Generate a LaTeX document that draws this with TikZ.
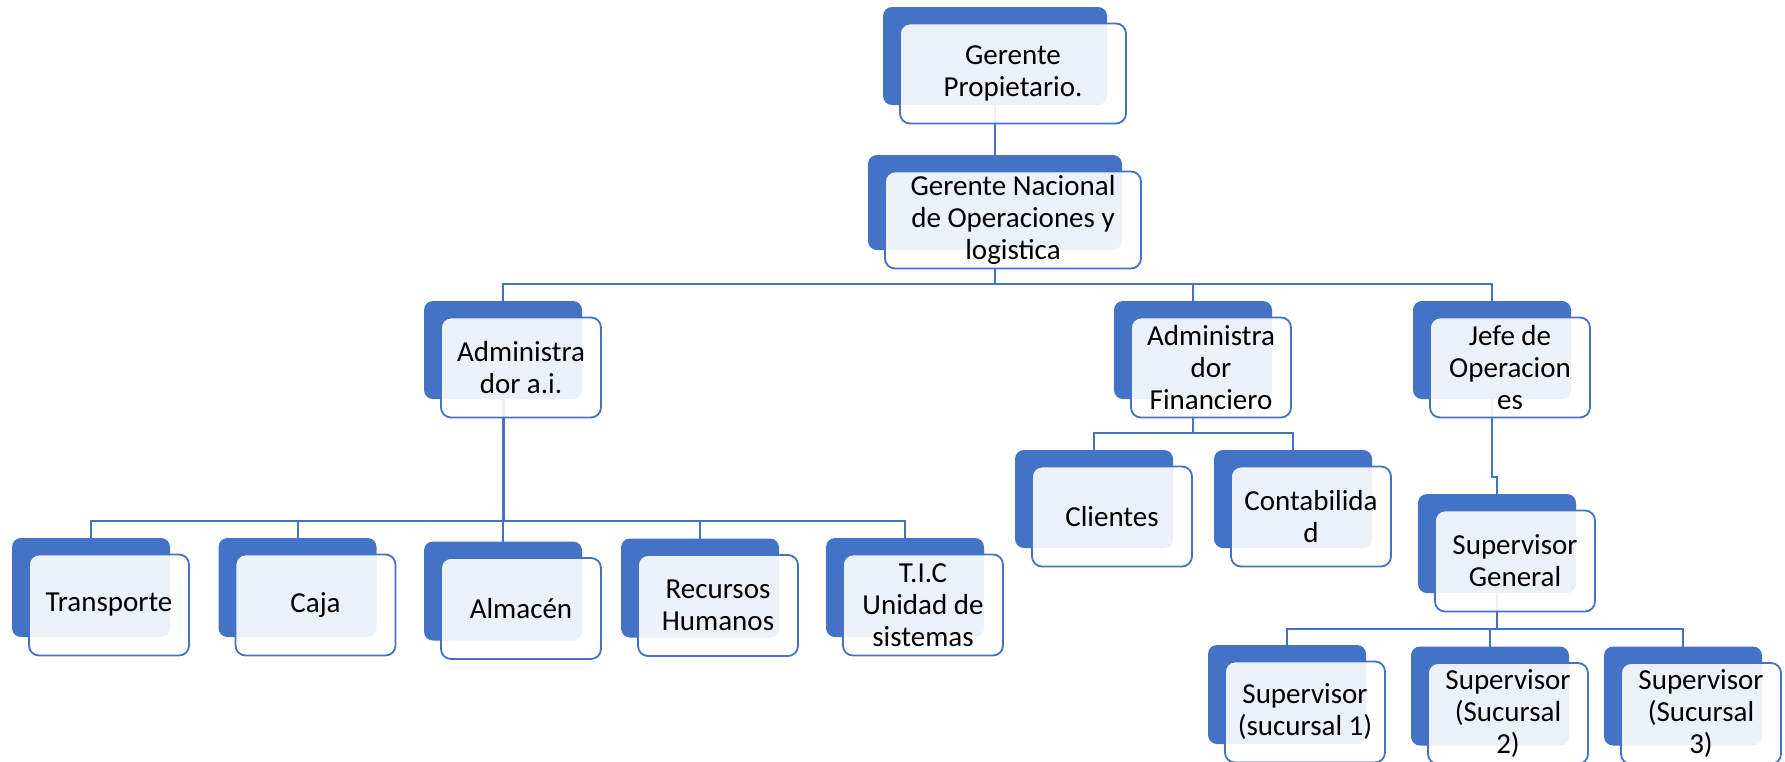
\documentclass[tikz,border=0pt]{standalone}
\usepackage{fontspec}
\setmainfont{Carlito}
\definecolor{ablue}{HTML}{4472C4}
\newcommand\orgfont{\fontsize{29}{32}\selectfont}
\newcommand\backnode[5]{\node[backbox, minimum width=#4pt, minimum height=#5pt] (#1) at (#2,#3) {};}
\newcommand\frontnode[4]{\node[frontbox, minimum width=#2pt, minimum height=#3pt] (#1f) at ([xshift=18pt,yshift=-17.5pt]#1.center) {#4};}
\begin{document}
\begin{tikzpicture}[x=1pt,y=-1pt,
 backbox/.style={fill=ablue, rounded corners=9pt, inner sep=0pt, outer sep=0pt},
 frontbox/.style={draw=ablue, line width=1.8pt, fill=white, fill opacity=0.9, text opacity=1, rounded corners=10pt, inner sep=0pt, outer sep=0pt, align=center, font=\orgfont},
 conn/.style={draw=ablue, line width=2pt}]
\fill[white] (0,0) rectangle (1785,761);
\clip (0,0) rectangle (1785,761);
% back boxes
\backnode{gp}{995}{56}{224}{98}
\backnode{gn}{995}{202.5}{254}{95}
\backnode{ai}{503}{350}{158}{98}
\backnode{af}{1193}{350}{158}{98}
\backnode{jo}{1492}{350}{158}{98}
\backnode{cl}{1094}{499}{158}{98}
\backnode{co}{1293}{499}{158}{98}
\backnode{sg}{1497}{543.5}{158}{99}
\backnode{sa}{1287}{694.5}{158}{99}
\backnode{sb}{1490}{696}{158}{99}
\backnode{sc}{1683}{696}{158}{99}
\backnode{tr}{91}{587.5}{158}{99}
\backnode{ca}{297.5}{587.5}{158}{99}
\backnode{al}{503}{591}{158}{99}
\backnode{rh}{700}{588}{158}{99}
\backnode{ti}{905}{587.5}{158}{99}
% connectors
\draw[conn] (gp.south) -- (gn.north);
\draw[conn] (gn.south) -- ++(0,34) -| (ai.north);
\draw[conn] (gn.south) -- ++(0,34) -| (af.north);
\draw[conn] (gn.south) -- ++(0,34) -| (jo.north);
\draw[conn] (ai.south) -- ++(0,122) -| (tr.north);
\draw[conn] (ai.south) -- ++(0,122) -| (ca.north);
\draw[conn] (ai.south) -- ++(0,122) -| (al.north);
\draw[conn] (ai.south) -- ++(0,122) -| (rh.north);
\draw[conn] (ai.south) -- ++(0,122) -| (ti.north);
\draw[conn, line width=3pt] (ai.south) -- ++(0,122);
\draw[conn] (af.south) -- ++(0,34) -| (cl.north);
\draw[conn] (af.south) -- ++(0,34) -| (co.north);
\draw[conn] (jo.south) -- ++(0,78) -| (sg.north);
\draw[conn] (sg.south) -- ++(0,36) -| (sa.north);
\draw[conn] (sg.south) -- ++(0,36) -| (sb.north);
\draw[conn] (sg.south) -- ++(0,36) -| (sc.north);
% front boxes
\frontnode{gp}{226}{100}{Gerente\\Propietario.}
\frontnode{gn}{256}{97}{Gerente Nacional\\de Operaciones y\\logistica}
\frontnode{ai}{160}{100}{Administra\\dor a.i.}
\frontnode{af}{160}{100}{Administra\\dor\\Financiero}
\frontnode{jo}{160}{100}{Jefe de\\Operacion\\es}
\frontnode{cl}{160}{100}{Clientes}
\frontnode{co}{160}{100}{Contabilida\\d}
\frontnode{sg}{160}{101}{Supervisor\\General}
\frontnode{sa}{160}{101}{Supervisor\\(sucursal 1)}
\frontnode{sb}{160}{101}{Supervisor\\(Sucursal\\2)}
\frontnode{sc}{160}{101}{Supervisor\\(Sucursal\\3)}
\frontnode{tr}{160}{101}{Transporte}
\frontnode{ca}{160}{101}{Caja}
\frontnode{al}{160}{101}{Almacén}
\frontnode{rh}{160}{101}{Recursos\\Humanos}
\frontnode{ti}{160}{101}{T.I.C\\Unidad de\\sistemas}
\end{tikzpicture}
\end{document}
